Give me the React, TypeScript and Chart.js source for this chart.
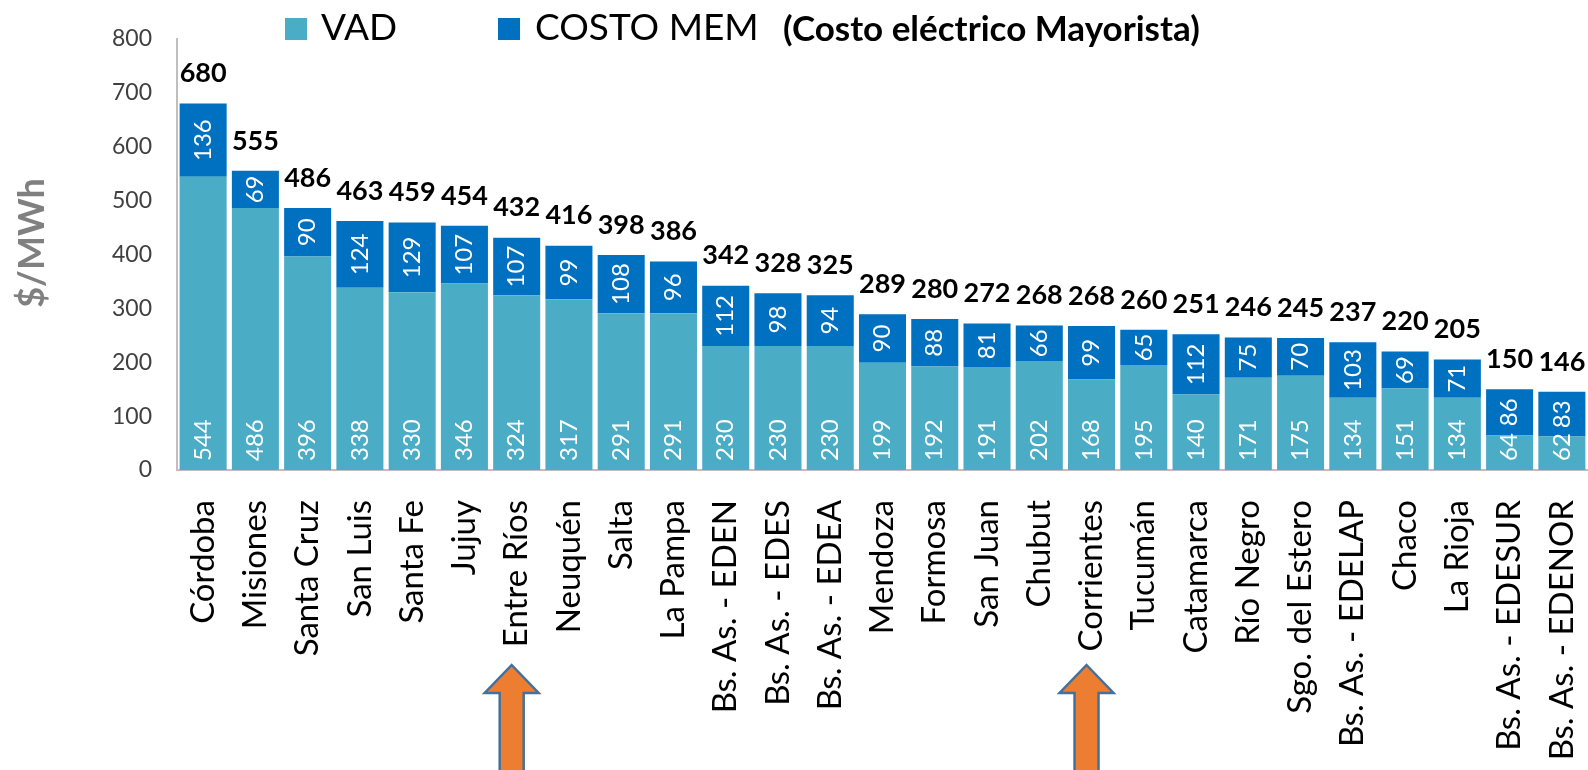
import React, { useEffect, useRef } from "react";
import { Chart, registerables } from "chart.js";

Chart.register(...registerables);

const categories = [
  "Córdoba", "Misiones", "Santa Cruz", "San Luis", "Santa Fe", "Jujuy", "Entre Ríos",
  "Neuquén", "Salta", "La Pampa", "Bs. As. - EDEN", "Bs. As. - EDES", "Bs. As. - EDEA",
  "Mendoza", "Formosa", "San Juan", "Chubut", "Corrientes", "Tucumán", "Catamarca",
  "Río Negro", "Sgo. del Estero", "Bs. As. - EDELAP", "Chaco", "La Rioja",
  "Bs. As. - EDESUR", "Bs. As. - EDENOR",
];
const vadValues = [544, 486, 396, 338, 330, 346, 324, 317, 291, 291, 230, 230, 230, 199, 192, 191, 202, 168, 195, 140, 171, 175, 134, 151, 134, 64, 62];
const memValues = [136, 69, 90, 124, 129, 107, 107, 99, 108, 96, 112, 98, 94, 90, 88, 81, 66, 99, 65, 112, 75, 70, 103, 69, 71, 86, 83];
const totalLabels = [680, 555, 486, 463, 459, 454, 432, 416, 398, 386, 342, 328, 325, 289, 280, 272, 268, 268, 260, 251, 246, 245, 237, 220, 205, 150, 146];
const yMin = 0;
const yMax = 800;
const yStep = 100;
const seriesNames = ["VAD", "COSTO MEM"];
const legendNote = "(Costo eléctrico Mayorista)";
const yTitle = "$/MWh";
const highlighted = ["Entre Ríos", "Corrientes"];

const VAD_COLOR = "#4BACC6";
const MEM_COLOR = "#0070C0";
const FONT = "Lato, 'Open Sans', sans-serif";

export default function App() {
  const ref = useRef<HTMLCanvasElement | null>(null);

  useEffect(() => {
    document.body.style.margin = "0";
    const canvas = ref.current;
    if (!canvas) return;

    const labelPlugin = {
      id: "labels",
      afterDatasetsDraw(chart: any) {
        const ctx = chart.ctx;
        const m0 = chart.getDatasetMeta(0);
        const m1 = chart.getDatasetMeta(1);
        ctx.save();
        ctx.fillStyle = "#ffffff";
        ctx.font = `24px ${FONT}`;
        m0.data.forEach((bar: any, i: number) => {
          const p = bar.getProps(["x", "y", "base"], true);
          ctx.save();
          ctx.translate(p.x, p.base - 9);
          ctx.rotate(-Math.PI / 2);
          ctx.textAlign = "left";
          ctx.textBaseline = "middle";
          ctx.fillText(String(vadValues[i]), 0, 0);
          ctx.restore();
        });
        m1.data.forEach((bar: any, i: number) => {
          const p = bar.getProps(["x", "y", "base"], true);
          ctx.save();
          ctx.translate(p.x, (p.y + p.base) / 2);
          ctx.rotate(-Math.PI / 2);
          ctx.textAlign = "center";
          ctx.textBaseline = "middle";
          ctx.fillText(String(memValues[i]), 0, 0);
          ctx.restore();
        });
        ctx.fillStyle = "#000000";
        ctx.font = `bold 27px ${FONT}`;
        ctx.textAlign = "center";
        ctx.textBaseline = "middle";
        m1.data.forEach((bar: any, i: number) => {
          const p = bar.getProps(["x", "y"], true);
          ctx.fillText(String(totalLabels[i]), p.x, p.y - 30);
        });
        ctx.restore();
      },
      afterDraw(chart: any) {
        const ctx = chart.ctx;
        ctx.save();
        // legend
        ctx.textBaseline = "alphabetic";
        ctx.textAlign = "left";
        ctx.fillStyle = VAD_COLOR;
        ctx.fillRect(285, 18, 22, 22);
        ctx.fillStyle = "#000";
        ctx.font = `37px ${FONT}`;
        ctx.fillText(seriesNames[0], 321, 40);
        ctx.fillStyle = MEM_COLOR;
        ctx.fillRect(498, 18, 22, 22);
        ctx.fillStyle = "#000";
        ctx.fillText(seriesNames[1], 535, 40);
        ctx.font = `bold 35px ${FONT}`;
        ctx.fillText(legendNote, 783, 41);
        // y title
        ctx.save();
        ctx.translate(32, 243);
        ctx.rotate(-Math.PI / 2);
        ctx.textAlign = "center";
        ctx.textBaseline = "middle";
        ctx.fillStyle = "#808080";
        ctx.font = `bold 36px ${FONT}`;
        ctx.fillText(yTitle, 0, 0);
        ctx.restore();
        // arrows
        const xs = chart.scales.x;
        highlighted.forEach((name) => {
          const idx = categories.indexOf(name);
          const cx = xs.getPixelForValue(idx) - 5;
          const tip = 665;
          const headBase = 693;
          const hw = 27;
          const sw = 12;
          ctx.beginPath();
          ctx.moveTo(cx, tip);
          ctx.lineTo(cx + hw, headBase);
          ctx.lineTo(cx + sw, headBase);
          ctx.lineTo(cx + sw, 780);
          ctx.lineTo(cx - sw, 780);
          ctx.lineTo(cx - sw, headBase);
          ctx.lineTo(cx - hw, headBase);
          ctx.closePath();
          ctx.fillStyle = "#ED7D31";
          ctx.fill();
          ctx.lineWidth = 2.5;
          ctx.strokeStyle = "#41719C";
          ctx.stroke();
        });
        ctx.restore();
      },
    };

    const chart = new Chart(canvas, {
      type: "bar",
      data: {
        labels: categories,
        datasets: [
          { label: seriesNames[0], data: vadValues, backgroundColor: VAD_COLOR, borderWidth: 0, barPercentage: 0.9, categoryPercentage: 1 },
          { label: seriesNames[1], data: memValues, backgroundColor: MEM_COLOR, borderWidth: 0, barPercentage: 0.9, categoryPercentage: 1 },
        ],
      },
      options: {
        responsive: false,
        animation: false,
        layout: { padding: { top: 38, left: 0, right: 0, bottom: 0 } },
        plugins: { legend: { display: false }, tooltip: { enabled: false } },
        scales: {
          x: {
            stacked: true,
            grid: { display: false, drawTicks: false },
            border: { display: true, color: "#BFBFBF", width: 2 },
            ticks: {
              autoSkip: false,
              minRotation: 90,
              maxRotation: 90,
              padding: 30,
              color: "#000",
              font: { family: FONT, size: 33 },
            },
            afterFit: (s: any) => {
              s.height = 300;
              s.paddingLeft = 0;
              s.paddingRight = 0;
            },
          },
          y: {
            stacked: true,
            min: yMin,
            max: yMax,
            grid: { display: false, drawTicks: false },
            border: { display: true, color: "#BFBFBF", width: 2 },
            ticks: {
              stepSize: yStep,
              padding: 25,
              color: "#404040",
              font: { family: FONT, size: 23 },
            },
            afterFit: (s: any) => {
              s.width = 177;
            },
          },
        },
      },
      plugins: [labelPlugin],
    });
    return () => chart.destroy();
  }, []);

  return <canvas ref={ref} width={1588} height={770} style={{ display: "block" }} />;
}
